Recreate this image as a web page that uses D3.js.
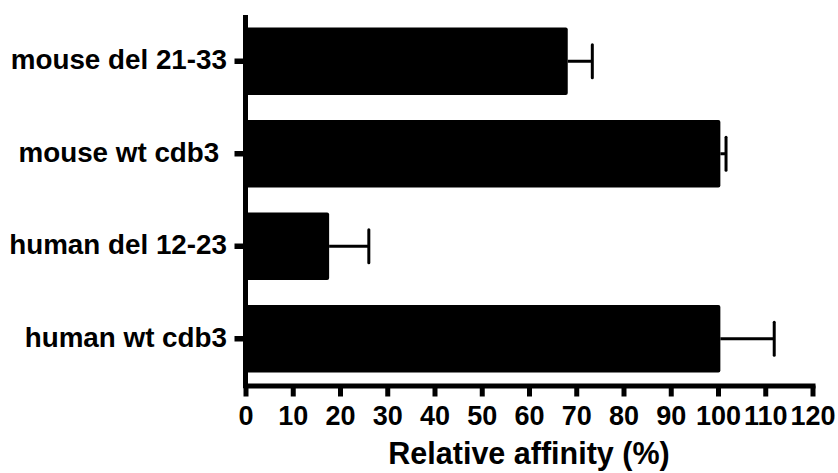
<!DOCTYPE html>
<html>
<head>
<meta charset="utf-8">
<script src="https://cdn.jsdelivr.net/npm/d3@7"></script>
<style>
  html, body { margin: 0; padding: 0; background: #fff; }
  svg { display: block; }
  text { font-family: "Liberation Sans", Arial, Helvetica, sans-serif; font-weight: bold; fill: #000; white-space: pre; }
</style>
</head>
<body>
<svg id="chart" width="838" height="473"></svg>
<script>
const categories = ["mouse del 21-33", "mouse wt cdb3 ", "human del 12-23", "human wt cdb3"];
const values = [68.2, 100.5, 17.7, 100.5];
const errors = [5.2, 1.2, 8.4, 11.4];
const xTicks = [0, 10, 20, 30, 40, 50, 60, 70, 80, 90, 100, 110, 120];
const xTitle = "Relative affinity (%)";

const svg = d3.select("#chart");
const x = d3.scaleLinear().domain([0, 120]).range([245.5, 812.5]);
const y = d3.scaleBand().domain(categories).range([15, 385]).paddingInner(0.27).paddingOuter(0.135);

const data = categories.map((c, i) => ({ c, v: values[i], e: errors[i] }));

// bars
svg.append("g").selectAll("rect").data(data).join("rect")
  .attr("x", x(0))
  .attr("y", d => y(d.c))
  .attr("width", d => x(d.v) - x(0))
  .attr("height", y.bandwidth())
  .attr("rx", 2)
  .attr("fill", "#000");

// error bars
const eg = svg.append("g").attr("stroke", "#000").attr("stroke-width", 3);
eg.selectAll("line.stem").data(data).join("line").attr("class", "stem")
  .attr("x1", d => x(d.v)).attr("x2", d => x(d.v + d.e))
  .attr("y1", d => y(d.c) + y.bandwidth() / 2).attr("y2", d => y(d.c) + y.bandwidth() / 2);
eg.selectAll("line.cap").data(data).join("line").attr("class", "cap")
  .attr("x1", d => x(d.v + d.e)).attr("x2", d => x(d.v + d.e))
  .attr("y1", d => y(d.c) + y.bandwidth() / 2 - 16.5).attr("y2", d => y(d.c) + y.bandwidth() / 2 + 16.5)
  .attr("stroke-linecap", "round");

// x axis
const xAxis = svg.append("g").attr("transform", "translate(0,385.5)")
  .call(d3.axisBottom(x).tickValues(xTicks).tickFormat(d3.format("d")).tickSize(11).tickSizeOuter(0));
xAxis.select(".domain").attr("stroke", "#000").attr("stroke-width", 5).attr("stroke-linecap", "square");
xAxis.selectAll(".tick line").attr("stroke", "#000").attr("stroke-width", 5);
xAxis.selectAll(".tick text").attr("y", 20.5).attr("dy", "0.71em")
  .style("font-size", "27px").style("font-family", "'Liberation Sans', Arial, sans-serif").style("font-weight", "bold");

// y axis
const yAxis = svg.append("g").attr("transform", "translate(245.5,0)")
  .call(d3.axisLeft(y).tickSize(11).tickSizeOuter(0).tickPadding(7.5));
yAxis.select(".domain").remove();
yAxis.append("line").attr("x1", 0).attr("x2", 0).attr("y1", 15).attr("y2", 388)
  .attr("stroke", "#000").attr("stroke-width", 5);
yAxis.selectAll(".tick line").attr("stroke", "#000").attr("stroke-width", 5.5);
yAxis.selectAll(".tick text").attr("dy", "0.28em")
  .style("font-size", "27.8px").style("font-family", "'Liberation Sans', Arial, sans-serif").style("font-weight", "bold");

// x title
svg.append("text")
  .attr("x", (x.range()[0] + x.range()[1]) / 2)
  .attr("y", 464)
  .attr("text-anchor", "middle")
  .style("font-size", "30.5px")
  .text(xTitle);
</script>
</body>
</html>
